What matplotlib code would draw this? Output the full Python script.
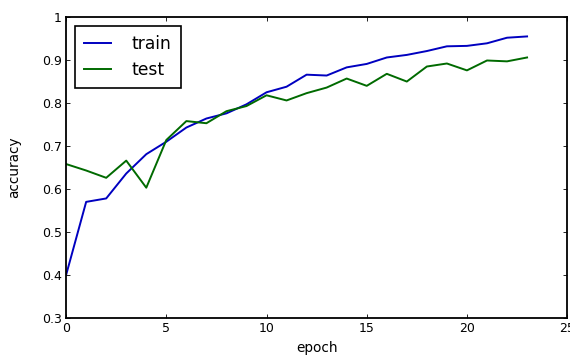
import matplotlib
matplotlib.use("Agg")
from matplotlib import pyplot as plt

epochs = list(range(24))
train_acc = [0.400, 0.570, 0.578, 0.636, 0.681, 0.710, 0.743, 0.764, 0.776, 0.797,
             0.825, 0.838, 0.866, 0.864, 0.883, 0.891, 0.906, 0.912, 0.921, 0.932,
             0.933, 0.939, 0.952, 0.955]
test_acc = [0.658, 0.643, 0.626, 0.666, 0.603, 0.714, 0.758, 0.753, 0.781, 0.793,
            0.818, 0.806, 0.823, 0.836, 0.857, 0.840, 0.868, 0.850, 0.885, 0.892,
            0.876, 0.899, 0.897, 0.906]
x_ticks = [0, 5, 10, 15, 20, 25]
y_ticks = [0.3, 0.4, 0.5, 0.6, 0.7, 0.8, 0.9, 1.0]
y_tick_labels = ["0.3", "0.4", "0.5", "0.6", "0.7", "0.8", "0.9", "1"]

fig = plt.figure(figsize=(5.7, 3.56), dpi=100)
ax = fig.add_axes([0.116, 0.107, 0.879, 0.845])

ax.plot(epochs, train_acc, color="#0000c0", linewidth=1.4, label="train")
ax.plot(epochs, test_acc, color="#006a00", linewidth=1.4, label="test")

ax.set_xlim(0, 25)
ax.set_ylim(0.3, 1.0)
ax.set_xticks(x_ticks)
ax.set_yticks(y_ticks)
ax.set_yticklabels(y_tick_labels)
ax.tick_params(direction="in", top=True, right=True, length=3, width=0.6,
               labelsize=9, pad=3)
for spine in ax.spines.values():
    spine.set_linewidth(1.3)

ax.set_xlabel("epoch", fontsize=9.8, labelpad=4.5)
ax.set_ylabel("accuracy", fontsize=9.8, labelpad=15)

leg = ax.legend(loc="upper left", fontsize=12.3, fancybox=False, framealpha=1,
                edgecolor="black", handlelength=1.6, handletextpad=1.2,
                borderpad=0.55, labelspacing=0.45, borderaxespad=0.5)
leg.get_frame().set_linewidth(1.2)

fig.savefig("out.png", dpi=100)
